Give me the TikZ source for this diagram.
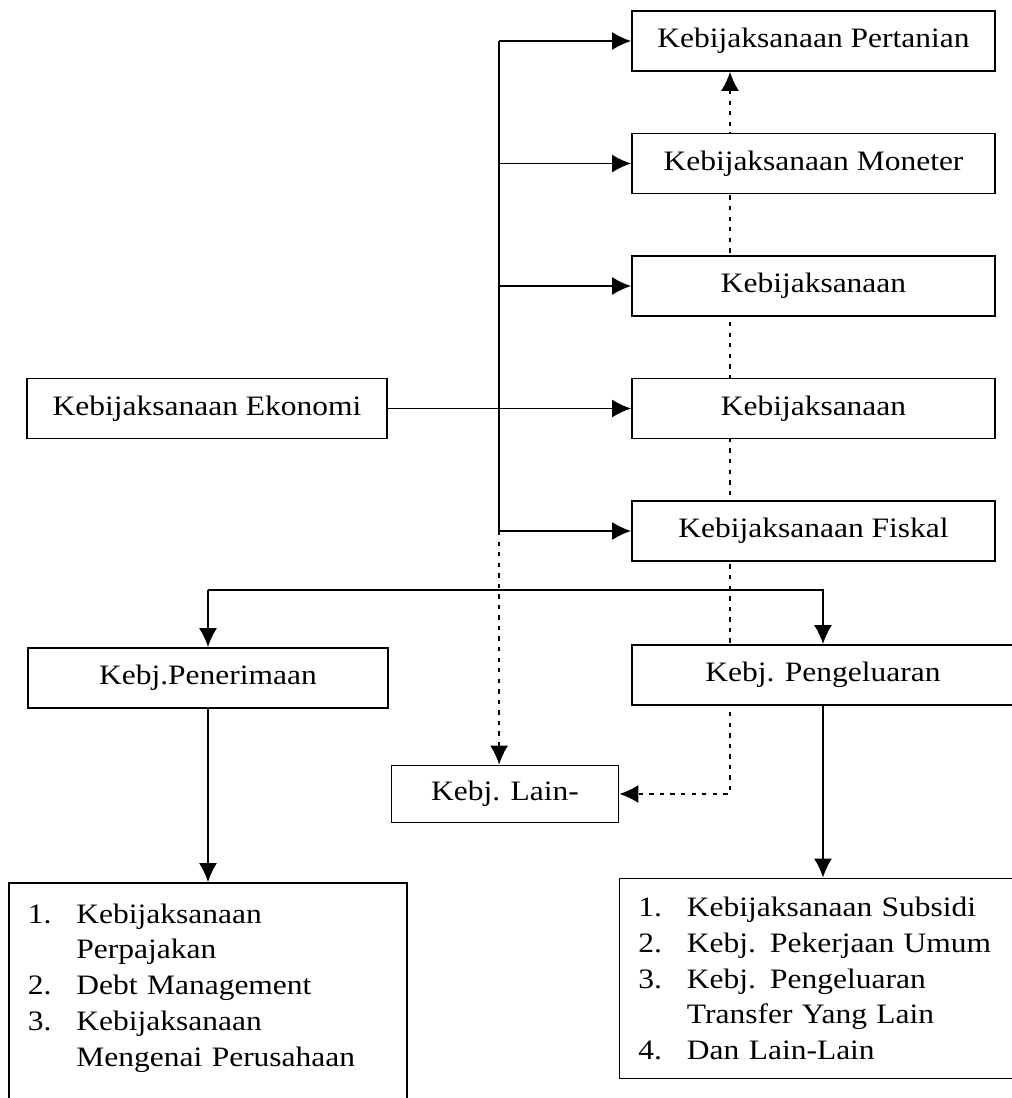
\documentclass[tikz,border=0pt]{standalone}
\usepackage{fontspec}
\setmainfont{Liberation Serif}[FakeStretch=1.12]
\usepackage{tikz}
\usetikzlibrary{arrows.meta, backgrounds}
\newcommand{\listno}[1]{\makebox[0.97cm][l]{#1}}

\begin{document}
\begin{tikzpicture}[
    ->, >={Latex[length=0.38cm, width=0.36cm]}, node distance=2.45cm, line width=1pt,
    font=\fontsize{16}{20.4}\selectfont,
    every node/.style={draw, fill=white, align=center, minimum height=1.2cm},
    colbox/.style={rectangle, minimum width=7.26cm},
    sidebox/.style={rectangle, minimum width=7.2cm},
    listbox/.style={rectangle, align=left, text width=7.2cm, inner xsep=0.38cm},
    dotline/.style={line width=1pt, dash pattern=on 2.5pt off 3.5pt}
]
\useasboundingbox (-16.27,0.82) rectangle (3.95,-21.14);

\node (kebij_pertanian) [colbox] {Kebijaksanaan Pertanian};
\node (kebij_moneter) [colbox, below of=kebij_pertanian] {Kebijaksanaan Moneter};
\node (kebij_a) [colbox, below of=kebij_moneter] {Kebijaksanaan};
\node (kebij_b) [colbox, below of=kebij_a] {Kebijaksanaan};
\node (kebij_fiskal) [colbox, below of=kebij_b] {Kebijaksanaan Fiskal};
\node (kebij_ekonomi) [sidebox, left of=kebij_b, xshift=-9.68cm] {Kebijaksanaan Ekonomi};

\node (kebij_pengeluaran) [rectangle, minimum width=7.64cm, below of=kebij_fiskal, xshift=0.19cm, yshift=-0.43cm] {Kebj. Pengeluaran};
\node (kebij_penerimaan) [sidebox, left of=kebij_pengeluaran, xshift=-9.85cm, yshift=-0.06cm] {Kebj.Penerimaan};
\node (kebij_lain) [rectangle, minimum width=4.54cm, minimum height=1.14cm, below of=kebij_pengeluaran, xshift=-6.36cm, yshift=0.07cm] {Kebj. Lain-};

\node (list_penerimaan) [listbox, minimum height=4.8cm, below of=kebij_penerimaan, yshift=-4.05cm] {\listno{1.}Kebijaksanaan\\ \listno{}Perpajakan\\ \listno{2.}Debt Management\\ \listno{3.}Kebijaksanaan\\ \listno{}Mengenai Perusahaan\\ \mbox{}};
\node (list_pengeluaran) [listbox, minimum height=4.0cm, below of=kebij_pengeluaran, xshift=-0.09cm, yshift=-3.62cm] {\listno{1.}Kebijaksanaan Subsidi\\ \listno{2.}Kebj. Pekerjaan Umum\\ \listno{3.}Kebj. Pengeluaran\\ \listno{}Transfer Yang Lain\\ \listno{4.}Dan Lain-Lain};

\coordinate (trunk_top) at ([xshift=-2.64cm]kebij_pertanian.west);
\coordinate (trunk_bottom) at ([xshift=-2.64cm]kebij_fiskal.west);
\coordinate (split_left) at ([yshift=1.15cm]kebij_penerimaan.north);

\draw[-] (trunk_top) -- (trunk_bottom);
\draw[->] (trunk_top) -- (kebij_pertanian.west);
\draw[->] (trunk_top |- kebij_moneter.west) -- (kebij_moneter.west);
\draw[->] (trunk_top |- kebij_a.west) -- (kebij_a.west);
\draw[->] (trunk_bottom) -- (kebij_fiskal.west);
\draw[->] (kebij_ekonomi) -- (kebij_b);
\begin{scope}[on background layer]
\draw[->, dotline] (trunk_bottom) -- (trunk_bottom |- kebij_lain.north);
\draw[<->, dotline] ([xshift=-1.67cm]kebij_pertanian.south) |- (kebij_lain.east);
\end{scope}
\draw[->] (split_left) -- (kebij_penerimaan.north);
\draw[->] (split_left) -| (kebij_pengeluaran.north);
\draw[->] (kebij_penerimaan) -- (list_penerimaan);
\draw[->] (kebij_pengeluaran.south) -- (kebij_pengeluaran.south |- list_pengeluaran.north);
\end{tikzpicture}
\end{document}
